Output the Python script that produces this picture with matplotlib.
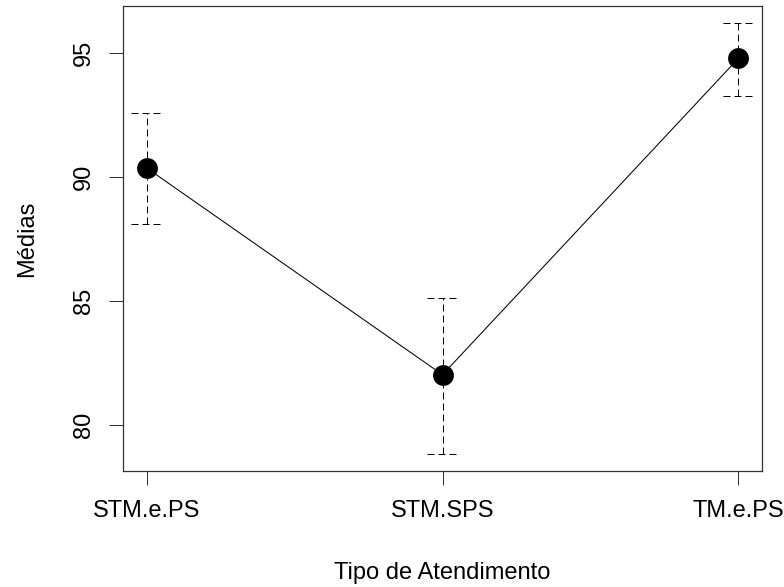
import matplotlib
matplotlib.use("Agg")
import matplotlib.pyplot as plt
import numpy as np

categories = ["STM.e.PS", "STM.SPS", "TM.e.PS"]
means = [90.37, 82.03, 94.79]
upper = [92.60, 85.14, 96.21]
lower = [88.10, 78.84, 93.27]
yticks = [80, 85, 90, 95]

plt.rcParams['font.family'] = ['Liberation Sans', 'DejaVu Sans']

fig = plt.figure(figsize=(7.84, 5.87), dpi=100)
ax = fig.add_axes([123/784, 1 - 471/587, (762-123)/784, (471-6)/587])

x = np.arange(1, len(categories) + 1)
dash = (0, (7, 4))
cap = 0.053

ax.plot(x, means, color='black', lw=0.75, zorder=2)
ax.vlines(x, lower, upper, colors='black', lw=0.72, linestyles=[dash], zorder=1)
ax.hlines(upper, x - cap, x + cap, colors='black', lw=0.72, linestyles=[dash], zorder=1)
ax.hlines(lower, x - cap, x + cap, colors='black', lw=0.72, linestyles=[dash], zorder=1)
ax.plot(x, means, 'o', color='black', markersize=15, markeredgewidth=0, zorder=3)

lo, hi = min(lower), max(upper)
r = hi - lo
ax.set_ylim(lo - 0.04 * r, hi + 0.04 * r)
ax.set_xlim(1 - 0.04 * 2, 3 + 0.04 * 2)

ax.set_xticks(x)
ax.set_xticklabels(categories, fontsize=17)
ax.set_yticks(yticks)
ax.set_yticklabels([str(v) for v in yticks], fontsize=17, rotation=90, va='center', ha='right')

ax.tick_params(axis='both', length=10, width=0.75, color='#333333')
ax.tick_params(axis='x', pad=11)
ax.tick_params(axis='y', pad=10)
for s in ax.spines.values():
    s.set_linewidth(0.9)
    s.set_color('#333333')

ax.set_xlabel("Tipo de Atendimento", fontsize=17, va='baseline')
ax.xaxis.set_label_coords(0.5, (471 - 579) / 465)
ax.set_ylabel("Médias", fontsize=17)
ax.yaxis.set_label_coords((38 - 123) / 639, 0.5)

fig.savefig("out.png", dpi=100)
